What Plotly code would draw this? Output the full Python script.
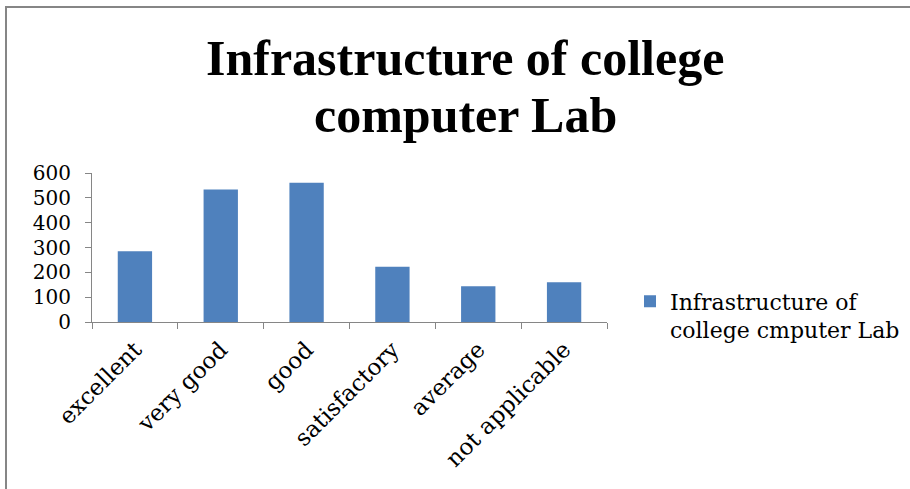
import plotly.graph_objects as go

categories = ["excellent", "very good", "good", "satisfactory", "average", "not applicable"]
values = [285, 534, 561, 222, 144, 160]
series_name = "Infrastructure of<br>college cmputer Lab"
title_lines = ["Infrastructure of college", "computer Lab"]
y_ticks = [0, 100, 200, 300, 400, 500, 600]

W, H = 910, 489
L, R, T, B = 92, 607, 173, 322  # plot area in pixels

fig = go.Figure()
fig.add_trace(go.Bar(
    x=categories, y=values, name=series_name,
    marker=dict(color="#4F81BD", line=dict(width=0)),
    width=0.4, showlegend=True,
))

annotations = [
    dict(text=title_lines[0], xref="paper", yref="paper", x=(465 - L) / (R - L),
         y=(B - 58) / (B - T), xanchor="center", yanchor="middle", showarrow=False,
         font=dict(family="Liberation Serif", size=50, color="black", weight="bold")),
    dict(text=title_lines[1], xref="paper", yref="paper", x=(465 - L) / (R - L),
         y=(B - 115) / (B - T), xanchor="center", yanchor="middle", showarrow=False,
         font=dict(family="Liberation Serif", size=50, color="black", weight="bold")),
]

fig.update_layout(
    width=W, height=H,
    paper_bgcolor="white", plot_bgcolor="white",
    margin=dict(l=L, r=W - R, t=T, b=H - B, autoexpand=False),
    font=dict(family="DejaVu Serif", color="black"),
    xaxis=dict(showline=True, linecolor="#868686", linewidth=1, ticks="outside",
               tickson="boundaries", ticklen=6, tickcolor="#868686",
               tickangle=-45, ticklabelstandoff=4,
               tickfont=dict(size=23, family="DejaVu Serif")),
    yaxis=dict(range=[0, 600], tickvals=y_ticks, showline=True, linecolor="#868686",
               ticks="outside", ticklen=6, tickcolor="#868686", showgrid=False,
               zeroline=False, ticklabelstandoff=10,
               tickfont=dict(size=20, family="DejaVu Serif")),
    legend=dict(x=(630 - L) / (R - L), y=(B - 316) / (B - T), xanchor="left", yanchor="middle",
                valign="top", font=dict(size=22, family="DejaVu Serif"), itemwidth=30),
    annotations=annotations,
    shapes=[dict(type="rect", xref="paper", yref="paper",
                 x0=(6 - L) / (R - L), x1=2.0, y0=-3, y1=(B - 7) / (B - T),
                 line=dict(color="#868686", width=2), fillcolor="rgba(0,0,0,0)")],
)

fig.write_html("out.html", config={"displayModeBar": False},
               post_script="document.body.style.margin='0';document.body.style.overflow='hidden';")
